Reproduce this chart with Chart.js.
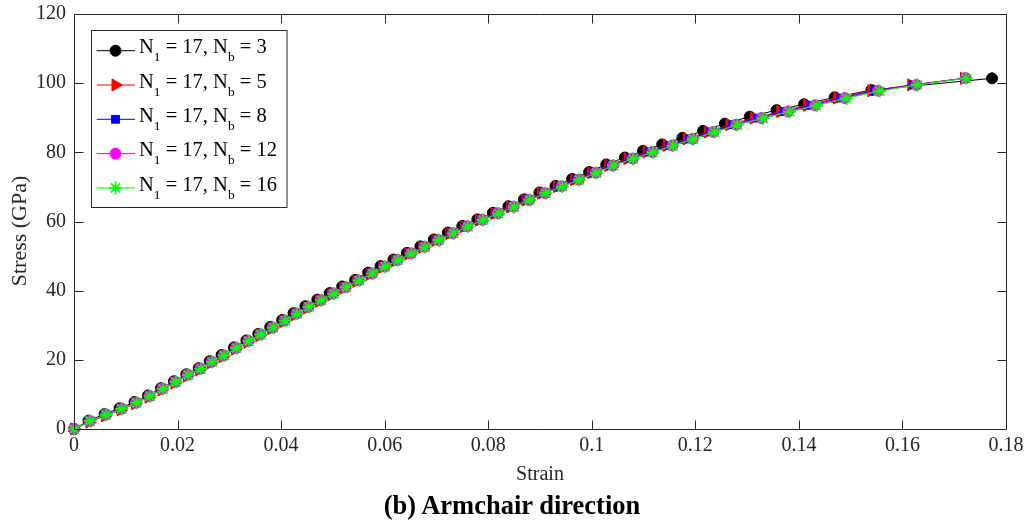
<!DOCTYPE html>
<html>
<head>
<meta charset="utf-8">
<title>Stress–strain, armchair direction</title>
<script src="https://cdn.jsdelivr.net/npm/chart.js@4.4.1/dist/chart.umd.min.js"></script>
<style>
  html, body { margin: 0; padding: 0; background: #fff; }
  #wrap { position: relative; width: 1031px; height: 523px; }
  #c { display: block; }
  #overlay { position: absolute; left: 0; top: 0; pointer-events: none; }
</style>
</head>
<body>
<div id="wrap">
  <canvas id="c" width="1031" height="523"></canvas>
  <svg id="overlay" width="1031" height="523" xmlns="http://www.w3.org/2000/svg"></svg>
</div>
<script>
// ---- data: strain (-) and stress (GPa) for each bond-count case ----
const strainNb3 = [0, 0.0028, 0.0059, 0.0088, 0.0117, 0.0143, 0.0168, 0.0193, 0.0217, 0.0241,
  0.0262, 0.0285, 0.0309, 0.0333, 0.0356, 0.0379, 0.0402, 0.0424, 0.0447, 0.0470,
  0.0494, 0.0518, 0.0543, 0.0568, 0.0592, 0.0617, 0.0643, 0.0669, 0.0695, 0.0722,
  0.0750, 0.0779, 0.0809, 0.0839, 0.0869, 0.0899, 0.0930, 0.0962, 0.0995, 0.1028,
  0.1064, 0.1099, 0.1136, 0.1175, 0.1215, 0.1257, 0.1305, 0.1357, 0.1410, 0.1469,
  0.1540, 0.1773];
const stressNb3 = [0, 2.4, 4.3, 6.0, 7.8, 9.7, 11.8, 13.8, 15.8, 17.6,
  19.6, 21.4, 23.6, 25.6, 27.5, 29.5, 31.5, 33.5, 35.5, 37.4,
  39.3, 41.2, 43.1, 45.2, 47.1, 49.0, 50.9, 52.8, 54.8, 56.8,
  58.7, 60.6, 62.5, 64.4, 66.4, 68.4, 70.3, 72.3, 74.3, 76.5,
  78.5, 80.4, 82.3, 84.2, 86.2, 88.3, 90.3, 92.2, 93.9, 95.9,
  98.0, 101.4];

const strainNb5 = [0, 0.0030, 0.0060, 0.0090, 0.0118, 0.0144, 0.0169, 0.0194, 0.0218, 0.0242,
  0.0264, 0.0287, 0.0311, 0.0335, 0.0358, 0.0381, 0.0404, 0.0427, 0.0450, 0.0473,
  0.0497, 0.0520, 0.0545, 0.0571, 0.0595, 0.0620, 0.0646, 0.0672, 0.0698, 0.0725,
  0.0753, 0.0782, 0.0812, 0.0842, 0.0872, 0.0902, 0.0933, 0.0966, 0.0999, 0.1032,
  0.1069, 0.1106, 0.1145, 0.1184, 0.1224, 0.1266, 0.1313, 0.1364, 0.1416, 0.1474,
  0.1540, 0.1617, 0.1719];
const stressNb5 = [0, 2.0, 3.8, 5.5, 7.3, 9.2, 11.3, 13.3, 15.3, 17.1,
  19.1, 20.9, 23.1, 25.1, 27.0, 29.0, 31.0, 33.0, 35.0, 36.9,
  38.8, 40.7, 42.7, 44.7, 46.7, 48.6, 50.6, 52.5, 54.5, 56.5,
  58.5, 60.4, 62.3, 64.2, 66.2, 68.2, 70.1, 72.1, 74.1, 76.2,
  78.2, 80.1, 82.0, 83.9, 85.9, 88.0, 89.9, 91.8, 93.6, 95.7,
  97.8, 99.5, 101.4];

const strainNb8 = [0, 0.0030, 0.0061, 0.0091, 0.0119, 0.0145, 0.0170, 0.0195, 0.0219, 0.0243,
  0.0265, 0.0288, 0.0312, 0.0336, 0.0359, 0.0382, 0.0405, 0.0428, 0.0451, 0.0475,
  0.0499, 0.0522, 0.0547, 0.0573, 0.0597, 0.0622, 0.0648, 0.0674, 0.0701, 0.0728,
  0.0756, 0.0785, 0.0815, 0.0845, 0.0875, 0.0906, 0.0937, 0.0970, 0.1003, 0.1036,
  0.1074, 0.1111, 0.1150, 0.1189, 0.1229, 0.1272, 0.1320, 0.1371, 0.1423, 0.1481,
  0.1546, 0.1621, 0.1720];
const stressNb8 = [0, 2.2, 4.1, 5.8, 7.5, 9.4, 11.6, 13.5, 15.5, 17.3,
  19.3, 21.1, 23.3, 25.3, 27.2, 29.2, 31.2, 33.2, 35.2, 37.1,
  39.0, 40.9, 42.9, 44.9, 46.9, 48.8, 50.7, 52.6, 54.6, 56.5,
  58.5, 60.4, 62.3, 64.2, 66.2, 68.2, 70.1, 72.1, 74.1, 76.2,
  78.2, 80.1, 82.0, 83.9, 85.9, 88.0, 89.9, 91.8, 93.6, 95.7,
  97.8, 99.5, 101.4];

const strainNb12 = [0, 0.0031, 0.0062, 0.0092, 0.0120, 0.0146, 0.0171, 0.0196, 0.0220, 0.0244,
  0.0266, 0.0289, 0.0313, 0.0337, 0.0360, 0.0384, 0.0407, 0.0430, 0.0453, 0.0477,
  0.0501, 0.0525, 0.0550, 0.0576, 0.0600, 0.0625, 0.0651, 0.0677, 0.0704, 0.0732,
  0.0760, 0.0789, 0.0819, 0.0849, 0.0879, 0.0910, 0.0942, 0.0975, 0.1008, 0.1041,
  0.1079, 0.1117, 0.1156, 0.1195, 0.1235, 0.1279, 0.1328, 0.1379, 0.1431, 0.1489,
  0.1553, 0.1627, 0.1722];
const stressNb12 = [0, 2.3, 4.2, 5.9, 7.6, 9.5, 11.7, 13.6, 15.7, 17.5,
  19.4, 21.3, 23.4, 25.5, 27.4, 29.3, 31.4, 33.4, 35.3, 37.3,
  39.2, 41.0, 43.0, 45.0, 47.0, 48.9, 50.8, 52.7, 54.6, 56.6,
  58.6, 60.5, 62.4, 64.3, 66.2, 68.2, 70.2, 72.1, 74.1, 76.2,
  78.2, 80.1, 82.0, 83.9, 85.9, 88.0, 89.9, 91.8, 93.6, 95.7,
  97.8, 99.5, 101.5];

const strainNb16 = [0, 0.0031, 0.0062, 0.0092, 0.0121, 0.0147, 0.0172, 0.0197, 0.0221, 0.0245,
  0.0267, 0.0290, 0.0314, 0.0338, 0.0361, 0.0385, 0.0408, 0.0431, 0.0454, 0.0478,
  0.0502, 0.0526, 0.0551, 0.0577, 0.0601, 0.0626, 0.0652, 0.0678, 0.0705, 0.0733,
  0.0761, 0.0790, 0.0820, 0.0850, 0.0880, 0.0911, 0.0943, 0.0976, 0.1009, 0.1042,
  0.1080, 0.1118, 0.1157, 0.1196, 0.1237, 0.1281, 0.1331, 0.1382, 0.1434, 0.1492,
  0.1556, 0.1629, 0.1723];
const stressNb16 = [0, 2.3, 4.1, 5.8, 7.6, 9.5, 11.6, 13.6, 15.6, 17.4,
  19.4, 21.2, 23.4, 25.4, 27.3, 29.3, 31.3, 33.3, 35.3, 37.2,
  39.1, 41.0, 42.9, 45.0, 46.9, 48.8, 50.7, 52.6, 54.6, 56.6,
  58.5, 60.4, 62.3, 64.2, 66.2, 68.2, 70.1, 72.0, 74.0, 76.2,
  78.1, 80.0, 81.9, 83.8, 85.8, 87.9, 89.8, 91.7, 93.5, 95.6,
  97.7, 99.5, 101.4];

const nbValues = [3, 5, 8, 12, 16];

// ---- axis ticks and labels ----
const strainTicks = [0, 0.02, 0.04, 0.06, 0.08, 0.1, 0.12, 0.14, 0.16, 0.18];
const strainTickLabels = ['0', '0.02', '0.04', '0.06', '0.08', '0.1', '0.12', '0.14', '0.16', '0.18'];
const stressTicks = [0, 20, 40, 60, 80, 100, 120];
const stressTickLabels = ['0', '20', '40', '60', '80', '100', '120'];
const xAxisTitle = 'Strain';
const yAxisTitle = 'Stress (GPa)';
const caption = '(b) Armchair direction';

// ---- styling ----
const FONT = "'Liberation Serif', 'Times New Roman', serif";
const AXIS_COLOR = '#262626';
const seriesStyle = [
  { color: '#000000', shape: 'circle',   radius: 5.5, rotation: 0,  borderWidth: 1 },
  { color: '#ff0000', shape: 'triangle', radius: 7,   rotation: 90, borderWidth: 1 },
  { color: '#0000ff', shape: 'rect',     radius: 5.5, rotation: 0,  borderWidth: 1 },
  { color: '#ff00ff', shape: 'circle',   radius: 5.5, rotation: 0,  borderWidth: 1 },
  { color: '#00ff00', shape: 'star',     radius: 6.5, rotation: 0,  borderWidth: 1.7 }
];
const strainSets = [strainNb3, strainNb5, strainNb8, strainNb12, strainNb16];
const stressSets = [stressNb3, stressNb5, stressNb8, stressNb12, stressNb16];

const datasets = nbValues.map((nb, i) => {
  const st = seriesStyle[i];
  return {
    label: 'N1 = 17, Nb = ' + nb,
    data: strainSets[i].map((x, k) => ({ x: x, y: stressSets[i][k] })),
    borderColor: st.color,
    backgroundColor: st.color,
    borderWidth: 1,
    pointStyle: st.shape,
    pointRadius: st.radius,
    pointRotation: st.rotation,
    pointBorderWidth: st.borderWidth,
    pointBackgroundColor: st.color,
    pointBorderColor: st.color,
    tension: 0,
    clip: false,
    // later cases are painted over earlier ones
    order: nbValues.length - i
  };
});

// Box around the plotting area with inward tick marks on all four sides
const axesFrame = {
  id: 'axesFrame',
  afterDatasetsDraw(chart) {
    const { ctx, chartArea, scales } = chart;
    const L = Math.round(chartArea.left) + 0.5, R = Math.round(chartArea.right) + 0.5;
    const T = Math.round(chartArea.top) + 0.5, B = Math.round(chartArea.bottom) + 0.5;
    const len = 9;
    ctx.save();
    ctx.strokeStyle = AXIS_COLOR;
    ctx.lineWidth = 1;
    ctx.beginPath();
    ctx.rect(L, T, R - L, B - T);
    scales.x.ticks.forEach(t => {
      const px = Math.round(scales.x.getPixelForValue(t.value)) + 0.5;
      ctx.moveTo(px, B); ctx.lineTo(px, B - len);
      ctx.moveTo(px, T); ctx.lineTo(px, T + len);
    });
    scales.y.ticks.forEach(t => {
      const py = Math.round(scales.y.getPixelForValue(t.value)) + 0.5;
      ctx.moveTo(L, py); ctx.lineTo(L + len, py);
      ctx.moveTo(R, py); ctx.lineTo(R - len, py);
    });
    ctx.stroke();
    ctx.restore();
  }
};

const tickFont = { family: FONT, size: 20 };

new Chart(document.getElementById('c'), {
  type: 'line',
  data: { datasets: datasets },
  options: {
    responsive: false,
    animation: false,
    events: [],
    layout: { padding: { top: 14, right: 25, left: 0, bottom: 33.2 } },
    plugins: {
      legend: { display: false },
      tooltip: { enabled: false }
    },
    scales: {
      x: {
        type: 'linear',
        min: 0, max: 0.18,
        afterBuildTicks: s => { s.ticks = strainTicks.map(v => ({ value: v })); },
        afterFit: s => { s.height = 60.8; s.paddingLeft = 0; s.paddingRight = 0; },
        ticks: {
          callback: (v, i) => strainTickLabels[i],
          font: tickFont, color: AXIS_COLOR, padding: 5,
          maxRotation: 0, autoSkip: false
        },
        grid: { display: false, drawTicks: false },
        border: { display: false },
        title: {
          display: true, text: xAxisTitle, color: AXIS_COLOR,
          font: { family: FONT, size: 20, lineHeight: 1.2 },
          padding: { top: 0, bottom: 3 }
        }
      },
      y: {
        type: 'linear',
        min: 0, max: 120,
        afterBuildTicks: s => { s.ticks = stressTicks.map(v => ({ value: v })); },
        afterFit: s => { s.width = 74; s.paddingTop = 0; s.paddingBottom = 0; },
        ticks: {
          callback: (v, i) => stressTickLabels[i],
          font: tickFont, color: AXIS_COLOR, padding: 8, autoSkip: false
        },
        grid: { display: false, drawTicks: false },
        border: { display: false },
        title: { display: false }
      }
    }
  },
  plugins: [axesFrame]
});

// ---- overlay: y-axis title, caption and legend with subscripted labels ----
(function buildOverlay() {
  const NS = 'http://www.w3.org/2000/svg';
  const svg = document.getElementById('overlay');
  const mk = (tag, attrs) => {
    const el = document.createElementNS(NS, tag);
    for (const k in attrs) el.setAttribute(k, attrs[k]);
    return el;
  };

  const yTitle = mk('text', { x: 0, y: 0, fill: AXIS_COLOR, 'font-family': FONT, 'font-size': 22,
    'text-anchor': 'middle', transform: 'translate(25.5,231) rotate(-90)' });
  yTitle.textContent = yAxisTitle;
  svg.appendChild(yTitle);

  const cap = mk('text', { x: 512, y: 514, fill: '#000', 'font-family': FONT, 'font-size': 26.5,
    'font-weight': 'bold', 'text-anchor': 'middle' });
  cap.textContent = caption;
  svg.appendChild(cap);

  const box = { x: 91.5, y: 30.5, w: 195.5, h: 177 };
  svg.appendChild(mk('rect', { x: box.x, y: box.y, width: box.w, height: box.h,
    fill: '#fff', stroke: AXIS_COLOR, 'stroke-width': 1 }));
  const rowY0 = 50.7, rowStep = 34.3;
  const lineX0 = 96.7, lineX1 = 135, mx = 115.5, textX = 139;
  nbValues.forEach((nb, i) => {
    const st = seriesStyle[i];
    const y = rowY0 + rowStep * i;
    svg.appendChild(mk('line', { x1: lineX0, y1: y, x2: lineX1, y2: y, stroke: st.color, 'stroke-width': 1 }));
    const r = st.radius;
    if (st.shape === 'circle') {
      svg.appendChild(mk('circle', { cx: mx, cy: y, r: r, fill: st.color, stroke: st.color, 'stroke-width': st.borderWidth }));
    } else if (st.shape === 'triangle') {
      const pts = [[mx + r, y], [mx - r / 2, y - r * 0.866], [mx - r / 2, y + r * 0.866]];
      svg.appendChild(mk('polygon', { points: pts.map(p => p.join(',')).join(' '),
        fill: st.color, stroke: st.color, 'stroke-width': st.borderWidth }));
    } else if (st.shape === 'rect') {
      const h = r * Math.SQRT1_2;
      svg.appendChild(mk('rect', { x: mx - h, y: y - h, width: 2 * h, height: 2 * h,
        fill: st.color, stroke: st.color, 'stroke-width': st.borderWidth }));
    } else if (st.shape === 'star') {
      const d = r * Math.SQRT1_2;
      const path = `M${mx - r},${y}H${mx + r}M${mx},${y - r}V${y + r}` +
        `M${mx - d},${y - d}L${mx + d},${y + d}M${mx - d},${y + d}L${mx + d},${y - d}`;
      svg.appendChild(mk('path', { d: path, stroke: st.color, 'stroke-width': st.borderWidth, fill: 'none' }));
    }
    const t = mk('text', { x: textX, y: y + 2.7, fill: '#000',
      'font-family': FONT, 'font-size': 20.5, style: 'white-space:pre' });
    const parts = [['N', 0, null], ['1', 8, 13.5], [' = 17, N', -8, null], ['b', 8, 13.5], [' = ' + nb, -8, null]];
    parts.forEach(([txt, dy, fs]) => {
      const sp = mk('tspan', { dy: dy });
      if (fs) sp.setAttribute('font-size', fs);
      sp.textContent = txt;
      t.appendChild(sp);
    });
    svg.appendChild(t);
  });
})();
</script>
</body>
</html>
